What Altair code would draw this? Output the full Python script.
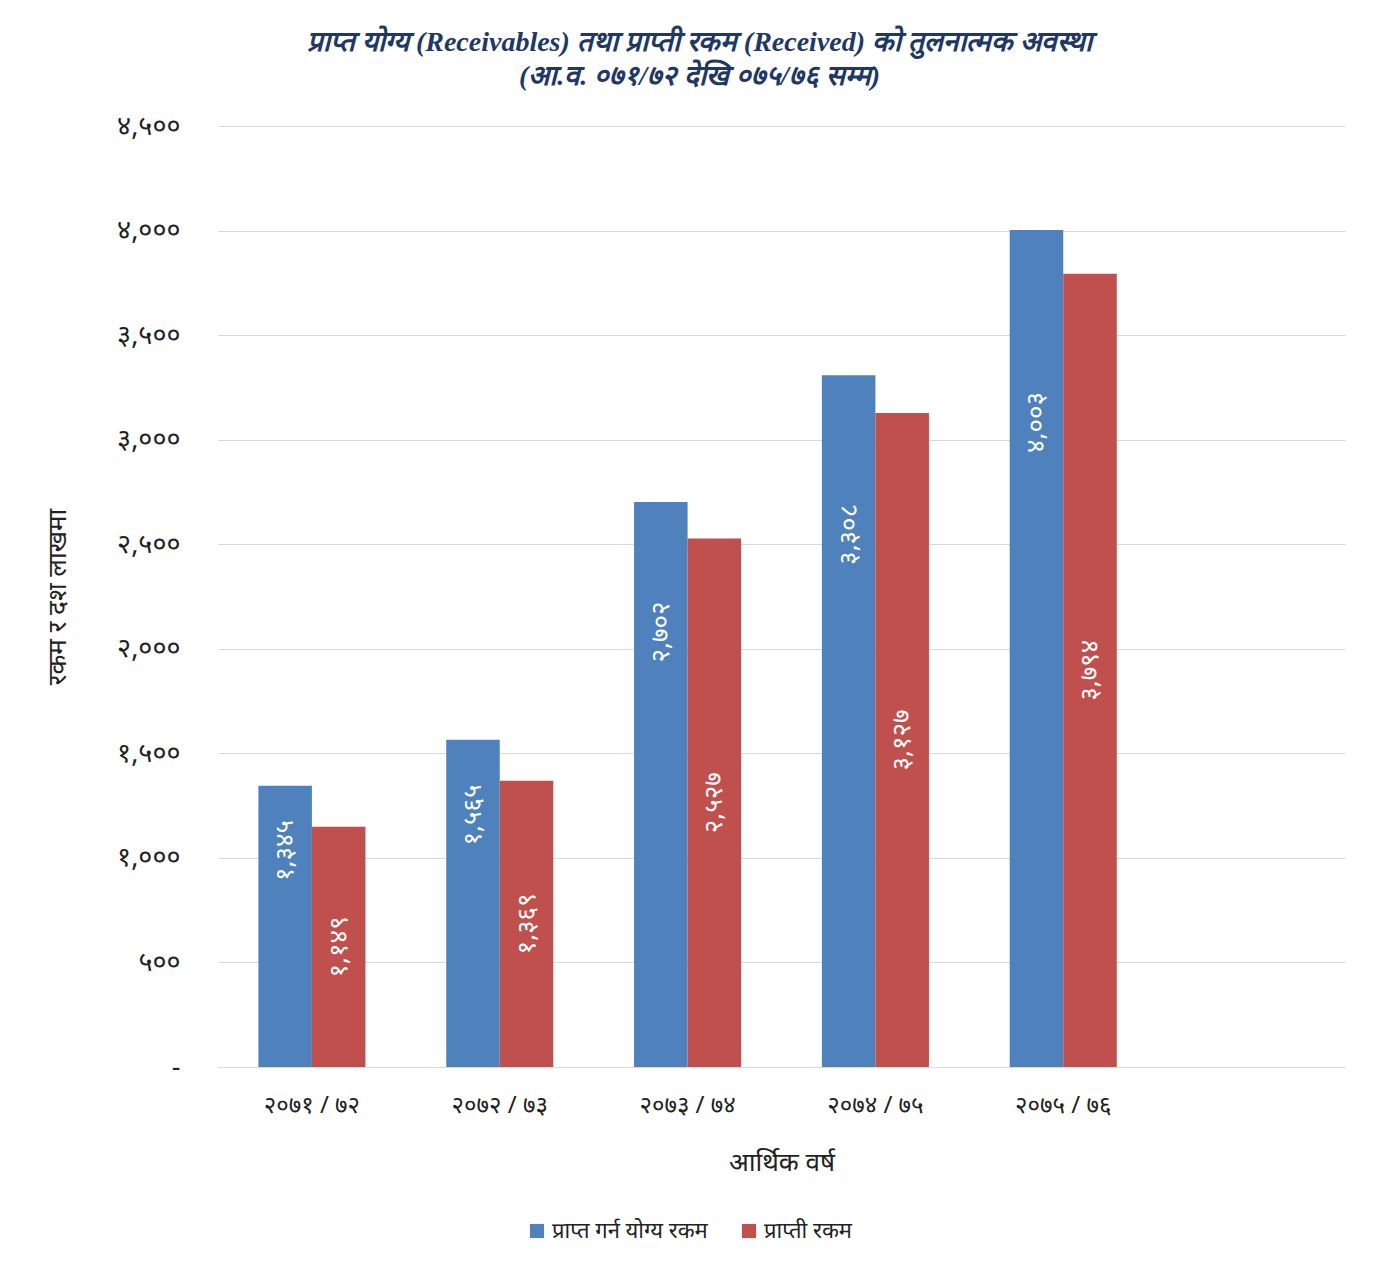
import altair as alt
import pandas as pd

years = ["२०७१/७२", "२०७२/७३", "२०७३/७४", "२०७४/७५", "२०७५/७६"]
series = ["प्राप्त गर्न योग्य रकम", "प्राप्ती रकम"]
receivables = [1345, 1565, 2702, 3308, 4003]
received = [1149, 1369, 2527, 3127, 3794]
y_ticks = [0, 500, 1000, 1500, 2000, 2500, 3000, 3500, 4000, 4500]
y_tick_labels = ["-", "५००", "१,०००", "१,५००", "२,०००", "२,५००", "३,०००", "३,५००", "४,०००", "४,५००"]
title_lines = ["प्राप्त योग्य (Receivables) तथा प्राप्ती रकम (Received) को तुलनात्मक अवस्था",
               "(आ.व. ०७१/७२ देखि ०७५/७६ सम्म)"]

dev = str.maketrans("0123456789", "०१२३४५६७८९")

rows = []
for i, y in enumerate(years):
    for s, vals, frac in ((series[0], receivables, 0.77), (series[1], received, 0.5)):
        v = vals[i]
        rows.append({"year": y.replace("/", " / "), "series": s, "value": v,
                     "label": f"{v:,}".translate(dev), "frac": frac})
df = pd.DataFrame(rows)

x_domain = [y.replace("/", " / ") for y in years] + [" "]

label_expr = " : ".join(
    [f"datum.value == {t} ? '{l}'" for t, l in zip(y_ticks, y_tick_labels)]
) + " : ''"

FONT = "Noto Sans"

x = alt.X("year:N", scale=alt.Scale(domain=x_domain, paddingInner=0.43, paddingOuter=0.215),
          axis=alt.Axis(title="आर्थिक वर्ष", labelAngle=0, ticks=False, domainColor="#d9d9d9",
                        labelFontSize=24, labelPadding=26, labelColor="#222222",
                        titleFontSize=26, titleFontWeight="normal", titlePadding=32,
                        titleColor="#222222", labelFont=FONT, titleFont=FONT))
xo = alt.XOffset("series:N", scale=alt.Scale(domain=series, paddingInner=0, paddingOuter=0))
color = alt.Color("series:N", scale=alt.Scale(domain=series, range=["#4F81BD", "#C0504D"]),
                  legend=alt.Legend(title=None, orient="none", legendX=308, legendY=1094,
                                    direction="horizontal", symbolType="square",
                                    symbolSize=200, symbolStrokeWidth=0, labelFontSize=22,
                                    labelFont=FONT, labelColor="#222222", columnPadding=30,
                                    labelOffset=4))

bars = alt.Chart(df).mark_bar().encode(
    x=x, xOffset=xo,
    y=alt.Y("value:Q", scale=alt.Scale(domain=[0, 4500], nice=False),
            axis=alt.Axis(values=y_ticks, labelExpr=label_expr, title="रकम र दश लाखमा",
                          grid=True, gridColor="#d9d9d9", domain=False, ticks=False,
                          labelFontSize=27, labelPadding=38, labelColor="#222222",
                          labelFont=FONT, titleFont=FONT, titleFontSize=26,
                          titleFontWeight="normal", titlePadding=46, titleColor="#222222")),
    color=color,
)

labels = alt.Chart(df).transform_calculate(
    ly="datum.value * datum.frac"
).mark_text(angle=270, color="white", fontSize=26, font=FONT, align="center",
            baseline="middle").encode(
    x=x, xOffset=xo,
    y=alt.Y("ly:Q"),
    text="label:N",
)

chart = alt.layer(bars, labels).properties(
    width=1127, height=941,
    autosize=alt.AutoSizeParams(type="none"),
    padding={"left": 210, "top": 118, "right": 25, "bottom": 190},
    title=alt.TitleParams(title_lines, fontSize=28, font="Liberation Serif",
                          fontStyle="italic", fontWeight="bold", color="#1F3864",
                          anchor="middle", dx=-82, offset=21, lineHeight=34),
).configure_view(stroke=None)

chart.save("out.html", embed_options={"renderer": "svg", "actions": False})
